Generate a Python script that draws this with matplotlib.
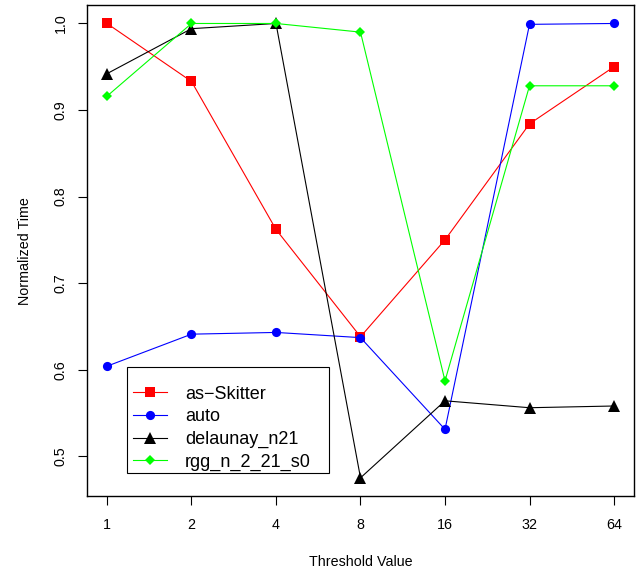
import matplotlib
matplotlib.use("Agg")
import matplotlib.pyplot as plt
from matplotlib.lines import Line2D
from matplotlib.patches import Rectangle

plt.rcParams['font.family'] = ['Liberation Sans', 'DejaVu Sans']

thresholds = ["1", "2", "4", "8", "16", "32", "64"]
as_skitter = [1.000, 0.933, 0.762, 0.638, 0.750, 0.884, 0.950]
auto = [0.604, 0.641, 0.643, 0.637, 0.531, 0.999, 1.000]
delaunay_n21 = [0.942, 0.994, 1.000, 0.475, 0.564, 0.556, 0.558]
rgg_n_2_21_s0 = [0.916, 1.000, 1.000, 0.990, 0.587, 0.928, 0.928]

series = [
    ("as\u2212Skitter", as_skitter, "#FF0000", "s", 7.2),
    ("auto", auto, "#0000FF", "o", 6.6),
    ("delaunay_n21", delaunay_n21, "#000000", "^", 8.2),
    ("rgg_n_2_21_s0", rgg_n_2_21_s0, "#00FF00", "D", 4.6),
]

W, H = 643, 574
fig = plt.figure(figsize=(W / 100, H / 100), dpi=100)
ax = fig.add_axes([86.7 / W, 1 - 496 / H, (634.3 - 86.7) / W, (496 - 5.3) / H])

x = list(range(len(thresholds)))
for name, vals, col, mk, ms in series:
    ax.plot(x, vals, color=col, lw=0.8, marker=mk, markersize=ms,
            markeredgewidth=0, label=name)

ax.set_xlim(-0.24, len(thresholds) - 1 + 0.24)
ax.set_ylim(0.454, 1.021)
ax.set_xticks(x)
ax.set_xticklabels(thresholds)
ax.set_yticks([0.5, 0.6, 0.7, 0.8, 0.9, 1.0])
ax.set_yticklabels(["0.5", "0.6", "0.7", "0.8", "0.9", "1.0"], rotation=90, va="center")
ax.tick_params(direction="out", length=6.5, width=0.8, labelsize=10.3, colors="black")
ax.tick_params(axis="x", pad=9)
ax.tick_params(axis="y", pad=7)
for s in ax.spines.values():
    s.set_linewidth(1.0)
    s.set_color("black")

ax.set_xlabel("Threshold Value", fontsize=10.3, labelpad=17)
ax.set_ylabel("Normalized Time", fontsize=10.3, labelpad=16)

# Manual R-style legend (pixel positions in figure space)
def fx(px):
    return px / W

def fy(py):
    return 1 - py / H

fig.patches.append(Rectangle((fx(127.3), fy(473.3)), fx(329.3) - fx(127.3), fy(367.3) - fy(473.3),
                             transform=fig.transFigure, fill=True, facecolor="white",
                             edgecolor="black", lw=0.8, zorder=5))
for i, (name, vals, col, mk, ms) in enumerate(series):
    yy = fy(392.3 + 22.6 * i)
    fig.lines.append(Line2D([fx(132.7), fx(167.3)], [yy, yy], transform=fig.transFigure,
                            color=col, lw=0.8, zorder=6))
    fig.lines.append(Line2D([fx(150)], [yy], transform=fig.transFigure, color=col,
                            marker=mk, markersize=ms, markeredgewidth=0, lw=0, zorder=7))
    fig.text(fx(185), yy, name, fontsize=13, va="center_baseline", ha="left", zorder=8)

fig.savefig("out.png", dpi=100)
